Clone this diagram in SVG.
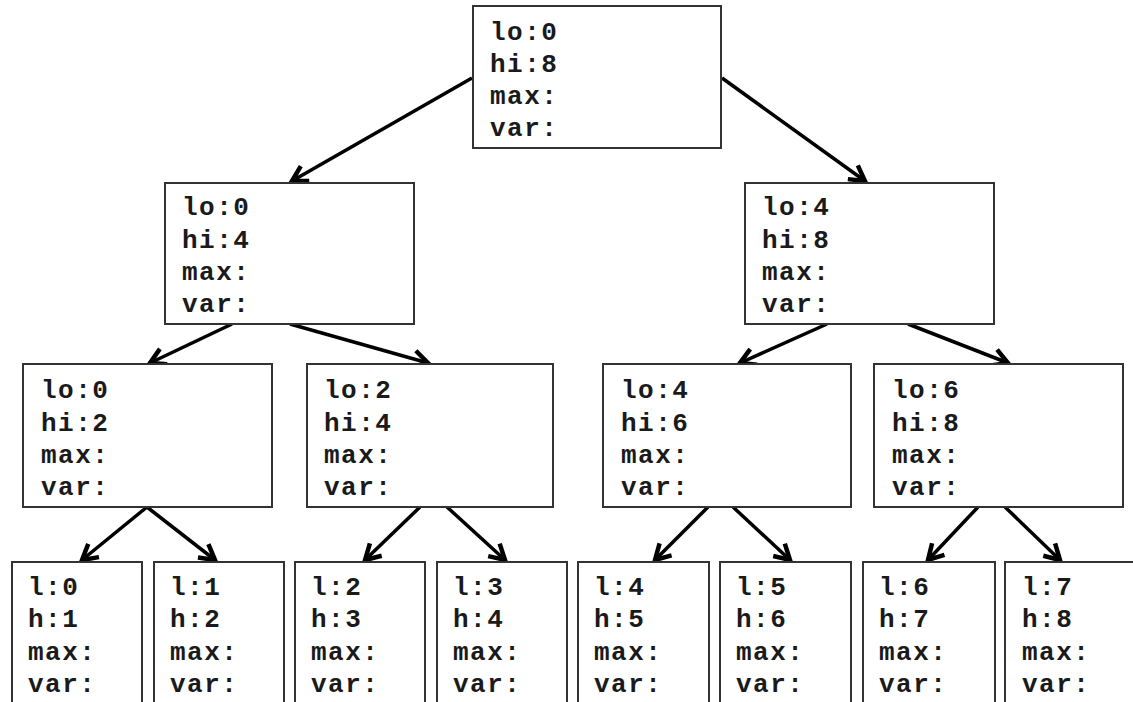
<svg xmlns="http://www.w3.org/2000/svg" width="1133" height="702" viewBox="0 0 1133 702">
<style>
.box{fill:#fff;stroke:#333;stroke-width:2}
.t{font-family:"Liberation Mono","Courier New",monospace;font-weight:bold;font-size:26px;fill:#1a1a1a;letter-spacing:1.5px}
.e{stroke:#000;stroke-width:3.5;fill:none;marker-end:url(#ah)}
</style>
<defs>
<marker id="ah" markerUnits="userSpaceOnUse" markerWidth="30" markerHeight="30" viewBox="-20 -15 30 30" refX="0" refY="0" orient="auto" overflow="visible">
<path d="M-15,-8.5 L0,0 L-15,8.5" fill="none" stroke="#000" stroke-width="4.5" stroke-linejoin="miter"/>
</marker>
</defs>
<rect width="1133" height="702" fill="#fff"/>
<g id="connectors">
<line class="e" x1="472" y1="78" x2="292" y2="181"/>
<line class="e" x1="722" y1="78" x2="865" y2="181"/>
<line class="e" x1="232" y1="324" x2="150" y2="363"/>
<line class="e" x1="290" y1="324" x2="428" y2="363"/>
<line class="e" x1="827" y1="324" x2="740" y2="363"/>
<line class="e" x1="908" y1="324" x2="1008" y2="363"/>
<line class="e" x1="147" y1="507" x2="82" y2="560"/>
<line class="e" x1="147" y1="507" x2="215" y2="560"/>
<line class="e" x1="420" y1="507" x2="365" y2="560"/>
<line class="e" x1="447" y1="507" x2="505" y2="560"/>
<line class="e" x1="708" y1="507" x2="655" y2="560"/>
<line class="e" x1="733" y1="507" x2="790" y2="560"/>
<line class="e" x1="978" y1="507" x2="928" y2="560"/>
<line class="e" x1="1005" y1="507" x2="1060" y2="560"/>
</g>
<g id="n-root"><rect class="box" x="473" y="6" width="248" height="142"/>
<text class="t" x="490" y="40">lo:0</text><text class="t" x="490" y="72">hi:8</text><text class="t" x="490" y="104">max:</text><text class="t" x="490" y="136">var:</text></g>
<g id="n-0-4"><rect class="box" x="165" y="183" width="249" height="141"/>
<text class="t" x="182" y="215">lo:0</text><text class="t" x="182" y="248">hi:4</text><text class="t" x="182" y="280">max:</text><text class="t" x="182" y="312">var:</text></g>
<g id="n-4-8"><rect class="box" x="745" y="183" width="249" height="141"/>
<text class="t" x="762" y="215">lo:4</text><text class="t" x="762" y="248">hi:8</text><text class="t" x="762" y="280">max:</text><text class="t" x="762" y="312">var:</text></g>
<g id="n-0-2"><rect class="box" x="23" y="364" width="249" height="143"/>
<text class="t" x="41" y="398">lo:0</text><text class="t" x="41" y="431">hi:2</text><text class="t" x="41" y="463">max:</text><text class="t" x="41" y="495">var:</text></g>
<g id="n-2-4"><rect class="box" x="307" y="364" width="246" height="143"/>
<text class="t" x="324" y="398">lo:2</text><text class="t" x="324" y="431">hi:4</text><text class="t" x="324" y="463">max:</text><text class="t" x="324" y="495">var:</text></g>
<g id="n-4-6"><rect class="box" x="603" y="364" width="248" height="143"/>
<text class="t" x="621" y="398">lo:4</text><text class="t" x="621" y="431">hi:6</text><text class="t" x="621" y="463">max:</text><text class="t" x="621" y="495">var:</text></g>
<g id="n-6-8"><rect class="box" x="874" y="364" width="249" height="143"/>
<text class="t" x="892" y="398">lo:6</text><text class="t" x="892" y="431">hi:8</text><text class="t" x="892" y="463">max:</text><text class="t" x="892" y="495">var:</text></g>
<g id="n-l0"><rect class="box" x="12" y="562" width="130" height="150"/>
<text class="t" x="28" y="595">l:0</text><text class="t" x="28" y="627">h:1</text><text class="t" x="28" y="660">max:</text><text class="t" x="28" y="692">var:</text></g>
<g id="n-l1"><rect class="box" x="154" y="562" width="130" height="150"/>
<text class="t" x="170" y="595">l:1</text><text class="t" x="170" y="627">h:2</text><text class="t" x="170" y="660">max:</text><text class="t" x="170" y="692">var:</text></g>
<g id="n-l2"><rect class="box" x="295" y="562" width="130" height="150"/>
<text class="t" x="311" y="595">l:2</text><text class="t" x="311" y="627">h:3</text><text class="t" x="311" y="660">max:</text><text class="t" x="311" y="692">var:</text></g>
<g id="n-l3"><rect class="box" x="437" y="562" width="130" height="150"/>
<text class="t" x="453" y="595">l:3</text><text class="t" x="453" y="627">h:4</text><text class="t" x="453" y="660">max:</text><text class="t" x="453" y="692">var:</text></g>
<g id="n-l4"><rect class="box" x="578" y="562" width="131" height="150"/>
<text class="t" x="594" y="595">l:4</text><text class="t" x="594" y="627">h:5</text><text class="t" x="594" y="660">max:</text><text class="t" x="594" y="692">var:</text></g>
<g id="n-l5"><rect class="box" x="720" y="562" width="131" height="150"/>
<text class="t" x="736" y="595">l:5</text><text class="t" x="736" y="627">h:6</text><text class="t" x="736" y="660">max:</text><text class="t" x="736" y="692">var:</text></g>
<g id="n-l6"><rect class="box" x="863" y="562" width="132" height="150"/>
<text class="t" x="879" y="595">l:6</text><text class="t" x="879" y="627">h:7</text><text class="t" x="879" y="660">max:</text><text class="t" x="879" y="692">var:</text></g>
<g id="n-l7"><rect class="box" x="1005" y="562" width="140" height="150"/>
<text class="t" x="1022" y="595">l:7</text><text class="t" x="1022" y="627">h:8</text><text class="t" x="1022" y="660">max:</text><text class="t" x="1022" y="692">var:</text></g>
</svg>
